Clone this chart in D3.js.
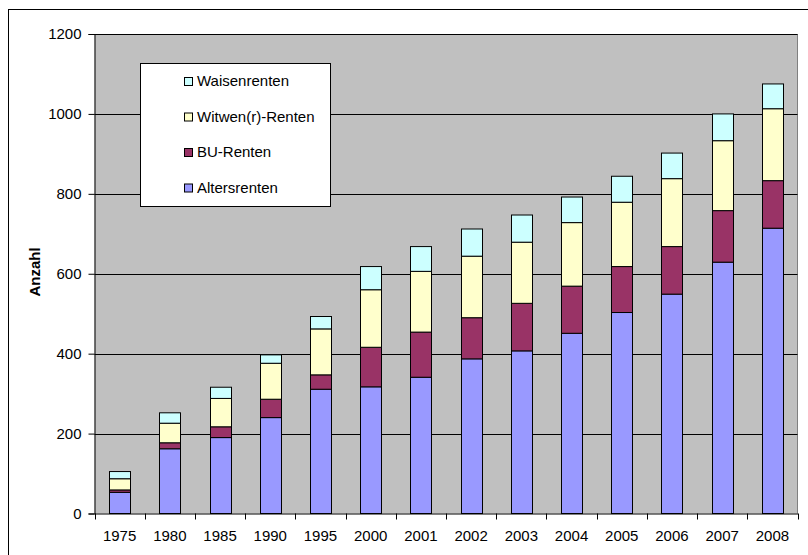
<!DOCTYPE html>
<html><head><meta charset="utf-8">
<script src="https://cdn.jsdelivr.net/npm/d3@7"></script>
<style>body{margin:0;background:#fff}svg{display:block}text{font-family:"Liberation Sans",Arial,sans-serif}</style>
</head><body><div id="c"></div>
<script>
const years = ["1975","1980","1985","1990","1995","2000","2001","2002","2003","2004","2005","2006","2007","2008"];
const altersrenten = [53,162,190,240,311,317,341,387,407,451,503,549,629,714];
const buRenten     = [6,15,27,46,36,99,113,103,119,118,115,119,129,119];
const witwenRenten = [28,49,71,90,115,144,152,154,153,159,161,170,175,180];
const waisenrenten = [18,26,28,21,31,58,62,68,68,64,65,64,67,62];
const seriesNames = ["Altersrenten","BU-Renten","Witwen(r)-Renten","Waisenrenten"];
const seriesColors = ["#9999FF","#993366","#FFFFCC","#CCFFFF"];
const yTicks = [0,200,400,600,800,1000,1200];

const W=808,H=555, FS=15;
const svg=d3.select("#c").append("svg").attr("width",W).attr("height",H);
const L=94.5,R=797.5,T=34,B=513.5;

svg.append("rect").attr("x",8.5).attr("y",9.5).attr("width",W).attr("height",H)
  .attr("fill","#fff").attr("stroke","#000").attr("stroke-width",1);

const x=d3.scaleBand().domain(years).range([L,R]).padding(0);
const y=d3.scaleLinear().domain([0,1200]).range([B,T]);

svg.append("rect").attr("x",L).attr("y",T).attr("width",R-L).attr("height",B-T)
  .attr("fill","#C0C0C0");
svg.append("line").attr("x1",R).attr("x2",R).attr("y1",T).attr("y2",B).attr("stroke","#808080");

svg.append("g").selectAll("line").data(yTicks.filter(d=>d>0)).join("line")
  .attr("x1",L).attr("x2",R).attr("y1",d=>Math.round(y(d))+0.5).attr("y2",d=>Math.round(y(d))+0.5)
  .attr("stroke","#000").attr("stroke-width",1);

const table=years.map((yr,i)=>({year:yr,"Altersrenten":altersrenten[i],"BU-Renten":buRenten[i],"Witwen(r)-Renten":witwenRenten[i],"Waisenrenten":waisenrenten[i]}));
const stack=d3.stack().keys(seriesNames)(table);
const bw=21;
svg.append("g").selectAll("g").data(stack).join("g")
  .attr("fill",(d,i)=>seriesColors[i])
  .selectAll("rect").data(d=>d).join("rect")
  .attr("x",d=>Math.round(x(d.data.year)+x.bandwidth()/2-bw/2)+0.5)
  .attr("width",bw)
  .attr("y",d=>y(d[1]))
  .attr("height",d=>y(d[0])-y(d[1]))
  .attr("stroke","#000").attr("stroke-width",1);

// y axis
const ya=svg.append("g").attr("transform",`translate(${L},0)`)
  .call(d3.axisLeft(y).tickValues(yTicks).tickSize(6).tickPadding(7).tickFormat(d3.format("d")));
ya.select(".domain").attr("stroke","#000");
ya.selectAll("text").attr("font-size",FS).attr("fill","#000").attr("font-family","Liberation Sans, Arial, sans-serif");

// x axis
const xa=svg.append("g").attr("transform",`translate(0,${B})`)
  .call(d3.axisBottom(x).tickSize(0).tickPadding(17));
xa.select(".domain").attr("stroke","#000");
xa.selectAll("text").attr("font-size",FS).attr("fill","#000").attr("font-family","Liberation Sans, Arial, sans-serif");
svg.append("g").selectAll("line").data(d3.range(years.length+1)).join("line")
  .attr("x1",i=>Math.round(L+i*x.step())+0.5).attr("x2",i=>Math.round(L+i*x.step())+0.5)
  .attr("y1",B).attr("y2",B+6).attr("stroke","#000");

svg.append("text").attr("transform",`translate(40,272) rotate(-90)`)
  .attr("text-anchor","middle").attr("font-weight","bold").attr("font-size",FS).text("Anzahl");

// legend
const lg=svg.append("g");
lg.append("rect").attr("x",140.5).attr("y",63.5).attr("width",190).attr("height",143)
  .attr("fill","#fff").attr("stroke","#000");
const order=[3,2,1,0];
order.forEach((si,k)=>{
  const cy=81+k*35.5;
  lg.append("rect").attr("x",184.5).attr("y",cy-3.5).attr("width",8).attr("height",8)
    .attr("fill",seriesColors[si]).attr("stroke","#000");
  lg.append("text").attr("x",197).attr("y",cy+5).attr("font-size",FS).text(seriesNames[si]);
});
</script></body></html>
